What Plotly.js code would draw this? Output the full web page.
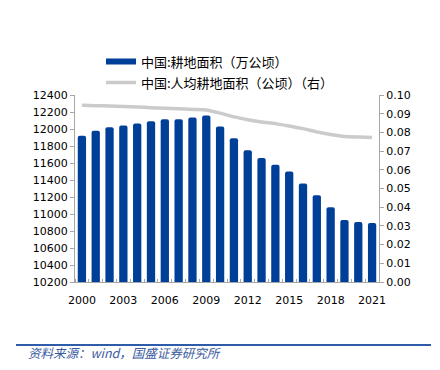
<!DOCTYPE html>
<html>
<head>
<meta charset="utf-8">
<script src="https://cdn.plot.ly/plotly-3.0.1.min.js"></script>
<style>html,body{margin:0;padding:0;background:#fff;}#chart{width:440px;height:370px;}</style>
</head>
<body>
<div id="chart"></div>
<script>
var years = [2000,2001,2002,2003,2004,2005,2006,2007,2008,2009,2010,2011,2012,2013,2014,2015,2016,2017,2018,2019,2020,2021];
var landArea = [11920,11980,12020,12040,12065,12090,12115,12115,12135,12160,12030,11890,11750,11660,11580,11500,11360,11220,11080,10930,10905,10895];
var perCapita = [0.0945,0.0943,0.0941,0.0939,0.0936,0.0932,0.0929,0.0927,0.0923,0.0920,0.0903,0.0883,0.0868,0.0856,0.0847,0.0834,0.0820,0.0803,0.0789,0.0778,0.0775,0.0773];
var xTickVals = [2000,2003,2006,2009,2012,2015,2018,2021];
var xTickText = ['2000','2003','2006','2009','2012','2015','2018','2021'];
var xBoundaries = [1999.5,2000.5,2001.5,2002.5,2003.5,2004.5,2005.5,2006.5,2007.5,2008.5,2009.5,2010.5,2011.5,2012.5,2013.5,2014.5,2015.5,2016.5,2017.5,2018.5,2019.5,2020.5,2021.5];
var name1 = '中国:耕地面积（万公顷）';
var name2 = '中国:人均耕地面积（公顷）（右）';
var footer = '资料来源：wind，国盛证券研究所';

var blue = '#003F98';
var gray = '#CBCBCB';
var axisGray = '#A6A6A6';
var tickFont = {family: 'DejaVu Sans, Verdana, sans-serif', size: 11, color: '#000'};
var cjkFont = {family: 'Noto Sans CJK SC, sans-serif', size: 13, color: '#000'};

var PW = 304, PH = 187, L = 75, T = 95, B = 282;
function px2x(px) { return (px - L) / PW; }
function px2y(py) { return (B - py) / PH; }

var traces = [
  {type: 'bar', x: years, y: landArea, name: name1, marker: {color: blue, cornerradius: 2}, width: 0.6, showlegend: false, hoverinfo: 'x+y'},
  {type: 'scatter', mode: 'lines', x: [null], y: [null], name: name1, line: {color: blue, width: 6}, legend: 'legend', showlegend: true},
  {type: 'scatter', mode: 'lines', x: years, y: perCapita, name: name2, yaxis: 'y2', line: {color: gray, width: 3.5, shape: 'spline', smoothing: 0.6}, legend: 'legend2', showlegend: true}
];

var layout = {
  width: 440, height: 370,
  margin: {l: 75, r: 61, t: 95, b: 88, pad: 0, autoexpand: false},
  paper_bgcolor: '#fff', plot_bgcolor: '#fff',
  bargap: 0.4,
  xaxis: {
    range: [1999.5, 2021.5], tickmode: 'array', tickvals: xTickVals, ticktext: xTickText,
    ticks: '', showgrid: false, zeroline: false, showline: true, linecolor: axisGray, linewidth: 1,
    tickfont: tickFont, ticklabelstandoff: 8, tickangle: 0, automargin: false,
    minor: {tickmode: 'array', tickvals: xBoundaries, ticks: 'inside', ticklen: 3, tickcolor: axisGray, showgrid: false}
  },
  yaxis: {
    range: [10200, 12400], dtick: 200, tick0: 10200, showgrid: false, zeroline: false, automargin: false,
    showline: true, linecolor: axisGray, linewidth: 1, ticks: 'outside', ticklen: 4, tickcolor: axisGray,
    tickfont: tickFont, tickformat: 'd'
  },
  yaxis2: {
    overlaying: 'y', side: 'right', range: [0, 0.10], dtick: 0.01, tick0: 0, tickformat: '.2f', automargin: false,
    showgrid: false, zeroline: false, showline: true, linecolor: axisGray, linewidth: 1,
    ticks: 'outside', ticklen: 4, tickcolor: axisGray, tickfont: tickFont
  },
  legend: {x: px2x(101), y: px2y(61.5), xanchor: 'left', yanchor: 'middle',
    bgcolor: 'rgba(0,0,0,0)', borderwidth: 0, font: cjkFont, itemwidth: 30},
  legend2: {x: px2x(101), y: px2y(82.5), xanchor: 'left', yanchor: 'middle',
    bgcolor: 'rgba(0,0,0,0)', borderwidth: 0, font: cjkFont, itemwidth: 30},
  shapes: [
    {type: 'line', xref: 'paper', yref: 'paper', x0: px2x(16), x1: px2x(431), y0: px2y(345), y1: px2y(345),
     line: {color: '#2E5CA8', width: 2}}
  ],
  annotations: [
    {xref: 'paper', yref: 'paper', x: px2x(26), y: px2y(352.5), xanchor: 'left', yanchor: 'middle', showarrow: false,
     text: '<i>' + footer + '</i>', font: {family: 'Noto Sans CJK SC, sans-serif', size: 12.5, color: '#3A5BA0'}}
  ]
};

Plotly.newPlot('chart', traces, layout, {displayModeBar: false, staticPlot: true});
</script>
</body>
</html>
